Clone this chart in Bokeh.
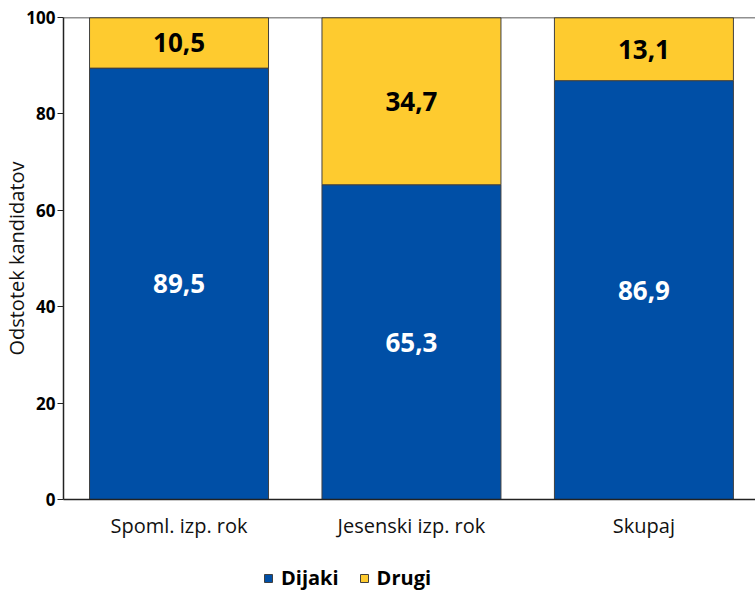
from bokeh.plotting import figure
from bokeh.layouts import column
from bokeh.models import ColumnDataSource, Range1d, FixedTicker, Legend, LegendItem, Span
from bokeh.core.properties import value
from bokeh.embed import file_html
from bokeh.resources import INLINE

categories = ["Spoml. izp. rok", "Jesenski izp. rok", "Skupaj"]
dijaki = [89.5, 65.3, 86.9]
drugi = [10.5, 34.7, 13.1]
series_names = ["Dijaki", "Drugi"]
y_ticks = [0, 20, 40, 60, 80, 100]

FONT = "Open Sans"
BLUE = "#004fa6"
YELLOW = "#fecb2f"
COLORS = [BLUE, YELLOW]

idx = list(range(len(categories)))
src = ColumnDataSource(dict(x=idx, dijaki=dijaki, drugi=drugi))

fig = figure(width=755, height=565, output_backend="svg", toolbar_location=None,
             x_range=Range1d(-0.497, 2.48), y_range=Range1d(0, 100),
             min_border_left=0, min_border_top=17, min_border_right=0, min_border_bottom=66)
fig.outline_line_color = None
fig.xgrid.visible = False
fig.ygrid.visible = False

rs = fig.vbar_stack(["dijaki", "drugi"], x="x", width=0.77, source=src,
                    color=COLORS, line_color="#404040", line_width=1)

# labels
lab_blue = ColumnDataSource(dict(x=idx, y=[v / 2 for v in dijaki],
                                 t=[f"{v:.1f}".replace(".", ",") for v in dijaki]))
lab_yel = ColumnDataSource(dict(x=idx, y=[a + b / 2 for a, b in zip(dijaki, drugi)],
                                t=[f"{v:.1f}".replace(".", ",") for v in drugi]))
fig.text(x="x", y="y", text="t", source=lab_blue, text_color="white",
         text_font=value(FONT), text_font_style="bold", text_font_size="26px",
         text_align="center", text_baseline="middle")
fig.text(x="x", y="y", text="t", source=lab_yel, text_color="black",
         text_font=value(FONT), text_font_style="bold", text_font_size="26px",
         text_align="center", text_baseline="middle")

fig.add_layout(Span(location=100, dimension="width", line_color="#222222", line_width=1.5))

# axes
fig.yaxis.ticker = FixedTicker(ticks=y_ticks)
fig.yaxis.axis_label = "Odstotek kandidatov"
fig.yaxis.axis_label_text_font = FONT
fig.yaxis.axis_label_text_font_style = "normal"
fig.yaxis.axis_label_text_font_size = "20px"
fig.yaxis.axis_label_text_color = "#111111"
fig.yaxis.axis_label_standoff = -7
fig.yaxis.major_label_text_font = FONT
fig.yaxis.major_label_text_font_style = "bold"
fig.yaxis.major_label_text_font_size = "17px"
fig.yaxis.major_label_text_color = "black"
fig.yaxis.major_tick_out = 6
fig.yaxis.major_tick_in = 0
fig.yaxis.minor_tick_line_color = None
fig.yaxis.axis_line_color = "#222222"
fig.yaxis.axis_line_width = 1.5
fig.yaxis.major_tick_line_color = "#222222"
fig.yaxis.major_label_standoff = 2

fig.xaxis.ticker = FixedTicker(ticks=idx)
fig.xaxis.major_label_overrides = {i: c for i, c in zip(idx, categories)}
fig.xaxis.major_label_text_font = FONT
fig.xaxis.major_label_text_font_size = "20px"
fig.xaxis.major_label_text_color = "#111111"
fig.xaxis.major_tick_line_color = None
fig.xaxis.minor_tick_line_color = None
fig.xaxis.axis_line_color = "#222222"
fig.xaxis.axis_line_width = 1.5
fig.xaxis.major_label_standoff = 6

# legend strip (hidden renderers only supply the legend swatches)
leg = figure(width=755, height=26, output_backend="svg", toolbar_location=None,
             x_range=Range1d(0, 1), y_range=Range1d(0, 1),
             min_border_left=0, min_border_top=0, min_border_right=0, min_border_bottom=0)
leg.axis.visible = False
leg.grid.visible = False
leg.outline_line_color = None
leg_rs = [leg.vbar(x=idx, top=vals, width=0.1, fill_color=c, line_color="#404040",
                   line_width=1, visible=False)
          for c, vals in zip(COLORS, [dijaki, drugi])]
legend = Legend(items=[LegendItem(label=n, renderers=[r]) for n, r in zip(series_names, leg_rs)],
                orientation="horizontal", location=(200, 0),
                label_text_font=FONT, label_text_font_style="bold",
                label_text_font_size="20px", label_text_color="black",
                glyph_width=10, glyph_height=10, spacing=20, label_standoff=8,
                padding=0, margin=0, label_height=20,
                inactive_fill_alpha=0,
                border_line_color=None, background_fill_alpha=0)
leg.add_layout(legend, "center")

p = column(fig, leg, spacing=0)
open("out.html", "w").write(file_html(p, INLINE))
